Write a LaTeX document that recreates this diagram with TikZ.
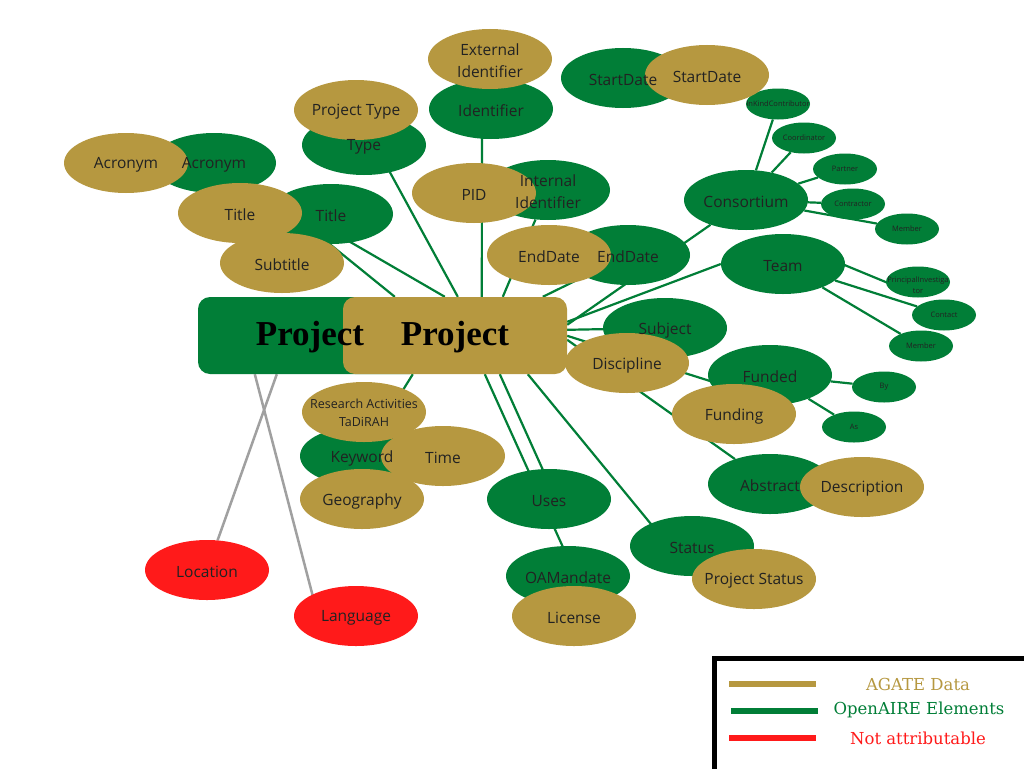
\documentclass[tikz,border=0pt]{standalone}
\usepackage{fontspec}
\setmainfont{Open Sans}
\newfontfamily\titlefont{Liberation Serif}
\newfontfamily\legendfont{DejaVu Serif}
\usetikzlibrary{shapes.geometric,calc}
\pgfdeclarelayer{back}\pgfdeclarelayer{bg}\pgfdeclarelayer{fg}
\pgfsetlayers{back,bg,main,fg}
\definecolor{oagreen}{RGB}{1,126,55}
\definecolor{agold}{RGB}{182,152,64}
\definecolor{nred}{RGB}{255,26,26}
\definecolor{txt}{RGB}{34,34,34}
\definecolor{lgray}{RGB}{160,160,160}
\tikzset{
  ell/.style={ellipse, minimum width=124pt, minimum height=60pt, inner sep=0pt, draw=none},
  gE/.style={ell, fill=oagreen},
  yE/.style={ell, fill=agold},
  rE/.style={ell, fill=nred},
  sE/.style={ellipse, minimum width=64pt, minimum height=31pt, inner sep=0pt, fill=oagreen},
  lbl/.style={text=txt, font=\fontsize{15.5}{22}\selectfont, align=center, inner sep=0pt, yshift=-2pt},
  slbl/.style={text=txt, font=\fontsize{7.5}{11}\selectfont, align=center, inner sep=0pt},
  rlbl/.style={text=txt, font=\fontsize{12.5}{18}\selectfont, align=center, inner sep=0pt, yshift=-1pt},
  pbox/.style={rounded corners=12pt, minimum width=224pt, minimum height=77pt, inner sep=0pt, draw=none},
  ptext/.style={font=\titlefont\bfseries\fontsize{35}{40}\selectfont, text=black, inner sep=0pt},
  link/.style={draw=oagreen, line width=2.2pt},
  glink/.style={draw=lgray, line width=2.5pt},
  legline/.style={line width=6pt},
  legtext/.style={font=\legendfont\fontsize{16.5}{20}\selectfont, inner sep=0pt}
}
\begin{document}
\begin{tikzpicture}[x=1pt,y=-1pt]
\useasboundingbox (0,0) rectangle (1024,768);
\clip (0,0) rectangle (1024,768);
\begin{pgfonlayer}{back}
\fill[white] (0,0) rectangle (1024,768);
\end{pgfonlayer}

% green ellipses
\node[gE] (acrG) at (214,163) {};
\node[gE] (titleG) at (331,214) {};
\node[gE] (typeG) at (364,145) {};
\node[gE] (idG) at (491,109) {};
\node[gE] (startG) at (623,78) {};
\node[gE] (intG) at (548,190) {};
\node[gE] (endG) at (628,255) {};
\node[gE] (consG) at (746,200) {};
\node[gE] (teamG) at (783,264) {};
\node[gE] (subjG) at (665,328) {};
\node[gE] (fundedG) at (770,375) {};
\node[gE] (abstrG) at (770,484) {};
\node[gE] (statusG) at (692,546) {};
\node[gE] (usesG) at (549,499) {};
\node[gE] (oamG) at (568,576) {};
\node[gE] (keyG) at (362,456) {};

% small green ellipses
\node[sE] (inkS) at (778,104) {};
\node[sE] (coordS) at (804,138) {};
\node[sE] (partS) at (845,169) {};
\node[sE] (contrS) at (853,204) {};
\node[sE] (memS) at (907,229) {};
\node[sE] (piS) at (918,282) {};
\node[sE] (contS) at (944,315) {};
\node[sE] (mem2S) at (921,346) {};
\node[sE] (byS) at (884,387) {};
\node[sE] (asS) at (854,427) {};

% red ellipses
\node[rE] (locR) at (207,570) {};
\node[rE] (langR) at (356,616) {};

% project boxes
\node[pbox, fill=oagreen] (projG) at (310,335.5) {};
\node[pbox, fill=agold] (projY) at (455,335.5) {};

% gold ellipses
\node[yE] (acrY) at (126,163) {};
\node[yE] (titleY) at (240,213) {};
\node[yE] (subY) at (282,263) {};
\node[yE] (ptypeY) at (356,110) {};
\node[yE] (extY) at (490,59) {};
\node[yE] (startY) at (707,75) {};
\node[yE] (pidY) at (474,193) {};
\node[yE] (endY) at (549,255) {};
\node[yE] (discY) at (627,363) {};
\node[yE] (fundingY) at (734,414) {};
\node[yE] (descY) at (862,487) {};
\node[yE] (pstatY) at (754,579) {};
\node[yE] (licY) at (574,616) {};
\node[yE] (resY) at (364,412) {};
\node[yE] (timeY) at (443,456) {};
\node[yE] (geoY) at (362,499) {};

% connectors
\begin{pgfonlayer}{bg}
\draw[link] (acrG) -- ($(projY.north west)+(102,0)$);
\draw[link] ($(titleG)+(-31,6)$) -- ($(projY.north west)+(52,0)$);
\draw[link] (ptypeY) -- ($(projY.north west)+(115,0)$);
\draw[link] ($(idG)+(-9,0)$) -- ($(projY.north west)+(139,0)$);
\draw[link] (intG) -- ($(projY.north west)+(160,0)$);
\draw[link] (endG) -- ($(projY.north west)+(200,0)$);
\draw[link] (consG) -- ($(projY.north east)+(0,28)$);
\draw[link] (teamG.west) -- ($(projY.north east)+(0,25)$);
\draw[link] (subjG) -- ($(projY.north east)+(0,33)$);
\draw[link] ($(fundedG)+(0,25)$) -- ($(projY.north east)+(0,39)$);
\draw[link] (abstrG) -- ($(projY.north east)+(0,43)$);
\draw[link] ($(statusG)+(-23,0)$) -- ($(projY.south west)+(185,0)$);
\draw[link] ($(oamG)+(8,0)$) -- ($(projY.south west)+(142,0)$);
\draw[link] ($(usesG)+(7,0)$) -- ($(projY.south west)+(157,0)$);
\draw[link] (keyG) -- ($(projY.south west)+(70,0)$);
\draw[glink] (locR) -- ($(projG.south west)+(79,0)$);
\draw[glink] ($(langR)+(-38,0)$) -- ($(projG.south west)+(57,0)$);
\foreach \s in {inkS,coordS,partS,contrS,memS}{\draw[link] (consG) -- (\s);}
\draw[link] ($(teamG)+(30,-12)$) -- ($(piS)+(-13,8)$);
\draw[link] (teamG) -- (contS);
\draw[link] (teamG) -- (mem2S);
\draw[link] (fundedG) -- (byS);
\draw[link] (fundedG) -- (asS);
\end{pgfonlayer}

% texts
\begin{pgfonlayer}{fg}
\node[lbl] at (acrG) {Acronym};
\node[lbl] at (titleG) {Title};
\node[lbl] at (typeG) {Type};
\node[lbl] at (idG) {Identifier};
\node[lbl] at (startG) {StartDate};
\node[lbl] at (intG) {Internal\\Identifier};
\node[lbl] at (endG) {EndDate};
\node[lbl] at (consG) {Consortium};
\node[lbl] at (teamG) {Team};
\node[lbl] at (subjG) {Subject};
\node[lbl] at (fundedG) {Funded};
\node[lbl] at (abstrG) {Abstract};
\node[lbl] at (statusG) {Status};
\node[lbl] at (usesG) {Uses};
\node[lbl] at (oamG) {OAMandate};
\node[lbl] at (keyG) {Keyword};
\node[lbl] at (acrY) {Acronym};
\node[lbl] at (titleY) {Title};
\node[lbl] at (subY) {Subtitle};
\node[lbl] at (ptypeY) {Project Type};
\node[lbl] at (extY) {External\\Identifier};
\node[lbl] at (startY) {StartDate};
\node[lbl] at (pidY) {PID};
\node[lbl] at (endY) {EndDate};
\node[lbl] at (discY) {Discipline};
\node[lbl] at (fundingY) {Funding};
\node[lbl] at (descY) {Description};
\node[lbl] at (pstatY) {Project Status};
\node[lbl] at (licY) {License};
\node[rlbl] at (resY) {Research Activities\\TaDiRAH};
\node[lbl] at (timeY) {Time};
\node[lbl] at (geoY) {Geography};
\node[lbl] at (locR) {Location};
\node[lbl] at (langR) {Language};
\node[slbl] at (inkS) {InKindContributor};
\node[slbl] at (coordS) {Coordinator};
\node[slbl] at (partS) {Partner};
\node[slbl] at (contrS) {Contractor};
\node[slbl] at (memS) {Member};
\node[slbl, anchor=north] at ($(piS)+(0,-5)$) {PrincipalInvestiga\\tor};
\node[slbl] at (contS) {Contact};
\node[slbl] at (mem2S) {Member};
\node[slbl] at (byS) {By};
\node[slbl] at (asS) {As};
\node[ptext] at ($(projG)+(0,2)$) {Project};
\node[ptext] at ($(projY)+(0,2)$) {Project};
\end{pgfonlayer}

% legend
\draw[line width=5pt, fill=white] (714.5,790) -- (714.5,658.5) -- (1040,658.5);
\coordinate (lgA) at (729,684);
\coordinate (lgB) at (731,711);
\coordinate (lgC) at (729,738);
\draw[legline, agold] (lgA) -- ++(87,0);
\draw[legline, oagreen] (lgB) -- ++(87,0);
\draw[legline, nred] (lgC) -- ++(87,0);
\node[legtext, text=agold] at (918,684) {AGATE Data};
\node[legtext, text=oagreen] at (919,710) {OpenAIRE Elements};
\node[legtext, text=nred] at (918,738) {Not attributable};
\end{tikzpicture}
\end{document}
